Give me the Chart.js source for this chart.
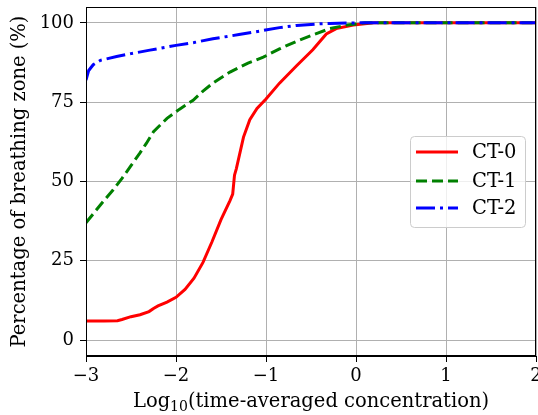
<!DOCTYPE html>
<html>
<head>
<meta charset="utf-8">
<script src="https://cdn.jsdelivr.net/npm/chart.js@4.4.0/dist/chart.umd.min.js"></script>
<style>
  html, body { margin: 0; padding: 0; background: #fff; }
  #wrap { width: 538px; height: 415px; }
</style>
</head>
<body>
<div id="wrap"><canvas id="c" width="538" height="415"></canvas></div>
<script>
// values
var xTicks = [-3, -2, -1, 0, 1, 2];
var yTicks = [0, 25, 50, 75, 100];
var seriesNames = ['CT-0', 'CT-1', 'CT-2'];

var ct0X = [-3, -2.8, -2.65, -2.6, -2.5, -2.4, -2.3, -2.25, -2.2, -2.1, -2.0, -1.9, -1.8, -1.7, -1.6, -1.5, -1.4, -1.37, -1.35, -1.33, -1.25, -1.18, -1.1, -1.0, -0.85, -0.66, -0.48, -0.33, -0.22, -0.03, 0.2, 2];
var ct0Y = [6, 6, 6.1, 6.5, 7.4, 8, 9, 10, 10.8, 12, 13.5, 16, 19.5, 24.5, 31, 38, 44, 46, 52, 54, 64, 69.5, 73, 76, 81, 86.5, 91.5, 96.5, 98.2, 99.3, 100, 100];

var ct1X = [-3, -2.9, -2.8, -2.7, -2.6, -2.5, -2.4, -2.33, -2.25, -2.1, -1.96, -1.81, -1.7, -1.59, -1.4, -1.2, -1.03, -0.85, -0.66, -0.5, -0.29, -0.1, 0.1, 2];
var ct1Y = [37, 40.5, 44, 47.3, 51, 55, 59, 62, 65.7, 69.9, 72.8, 75.6, 78.5, 81, 84.5, 87.3, 89.2, 91.8, 94.2, 96, 98.2, 99.3, 100, 100];

var ct2X = [-3, -2.97, -2.92, -2.84, -2.66, -2.5, -2.29, -2.0, -1.8, -1.59, -1.3, -1.03, -0.85, -0.66, -0.4, -0.29, 0, 2];
var ct2Y = [82, 85, 86.8, 88.2, 89.4, 90.3, 91.4, 92.9, 93.8, 95, 96.3, 97.6, 98.5, 99.2, 99.7, 99.8, 100, 100];

function pts(xs, ys) {
  return xs.map(function (x, i) { return { x: x, y: ys[i] }; });
}

var FONT = 'DejaVu Serif';

// frame around plot, x title with real subscript, legend box inside plot
var framePlugin = {
  id: 'frame',
  afterDraw: function (chart) {
    var ctx = chart.ctx, a = chart.chartArea;
    ctx.save();
    ctx.strokeStyle = '#000';
    ctx.lineWidth = 1;
    ctx.strokeRect(a.left + 0.5, a.top + 0.5, a.right - a.left - 1, a.bottom - a.top - 1);

    // x title: Log10(...) with subscript
    var big = '19.5px "' + FONT + '"', small = '14px "' + FONT + '"';
    var p1 = 'Log', p2 = '10', p3 = '(time-averaged concentration)';
    ctx.font = big; var w1 = ctx.measureText(p1).width, w3 = ctx.measureText(p3).width;
    ctx.font = small; var w2 = ctx.measureText(p2).width;
    var x0 = (a.left + a.right) / 2 - (w1 + w2 + w3) / 2, base = 407;
    ctx.fillStyle = '#000';
    ctx.textBaseline = 'alphabetic';
    ctx.textAlign = 'left';
    ctx.font = big; ctx.fillText(p1, x0, base);
    ctx.font = small; ctx.fillText(p2, x0 + w1, base + 4);
    ctx.font = big; ctx.fillText(p3, x0 + w1 + w2, base);

    // legend
    var bx = 410, by = 136, bw = 115, bh = 91, r = 4;
    ctx.fillStyle = 'rgba(255,255,255,0.8)';
    ctx.strokeStyle = '#cccccc';
    ctx.beginPath();
    ctx.roundRect(bx + 0.5, by + 0.5, bw, bh, r);
    ctx.fill();
    ctx.stroke();
    var rows = [152, 181, 208];
    chart.data.datasets.forEach(function (ds, i) {
      ctx.strokeStyle = ds.borderColor;
      ctx.lineWidth = ds.borderWidth;
      ctx.setLineDash(ds.borderDash || []);
      ctx.beginPath();
      ctx.moveTo(416, rows[i]);
      ctx.lineTo(458, rows[i]);
      ctx.stroke();
      ctx.setLineDash([]);
      ctx.fillStyle = '#000';
      ctx.font = big;
      ctx.textBaseline = 'middle';
      ctx.fillText(ds.label, 472, rows[i] + 1);
    });
    ctx.restore();
  }
};

var fmt = function (v) { return String(v).replace('-', '\u2212'); };

new Chart(document.getElementById('c'), {
  type: 'line',
  data: {
    datasets: [
      { label: seriesNames[0], data: pts(ct0X, ct0Y), borderColor: '#ff0000', borderWidth: 3, order: 3 },
      { label: seriesNames[1], data: pts(ct1X, ct1Y), borderColor: '#008000', borderWidth: 3, borderDash: [11, 5], order: 2 },
      { label: seriesNames[2], data: pts(ct2X, ct2Y), borderColor: '#0000ff', borderWidth: 3, borderDash: [19, 5, 3, 5], order: 1 }
    ]
  },
  options: {
    responsive: false,
    animation: false,
    layout: { padding: { top: 7, right: 2, left: 0, bottom: 0 } },
    elements: { point: { radius: 0 }, line: { tension: 0, fill: false } },
    plugins: { legend: { display: false }, tooltip: { enabled: false } },
    scales: {
      x: {
        type: 'linear', min: -3, max: 2,
        afterBuildTicks: function (s) { s.ticks = xTicks.map(function (v) { return { value: v }; }); },
        afterFit: function (s) { s.height = 59; s.paddingLeft = 0; s.paddingRight = 0; },
        grid: { color: '#b0b0b0', lineWidth: 1, tickColor: '#000', tickLength: 6 },
        border: { color: '#000' },
        ticks: { color: '#000', font: { family: FONT, size: 18 }, padding: 4, maxRotation: 0, callback: fmt },
        title: { display: false }
      },
      y: {
        type: 'linear', min: -5, max: 105,
        afterBuildTicks: function (s) { s.ticks = yTicks.map(function (v) { return { value: v }; }); },
        afterFit: function (s) { s.width = 86; s.paddingTop = 0; s.paddingBottom = 0; },
        grid: { color: '#b0b0b0', lineWidth: 1, tickColor: '#000', tickLength: 6 },
        border: { color: '#000' },
        ticks: { color: '#000', font: { family: FONT, size: 18 }, padding: 6, callback: fmt },
        title: { display: true, text: 'Percentage of breathing zone (%)', color: '#000', font: { family: FONT, size: 19.5 }, padding: { top: 8, bottom: 2 } }
      }
    }
  },
  plugins: [framePlugin]
});
</script>
</body>
</html>
